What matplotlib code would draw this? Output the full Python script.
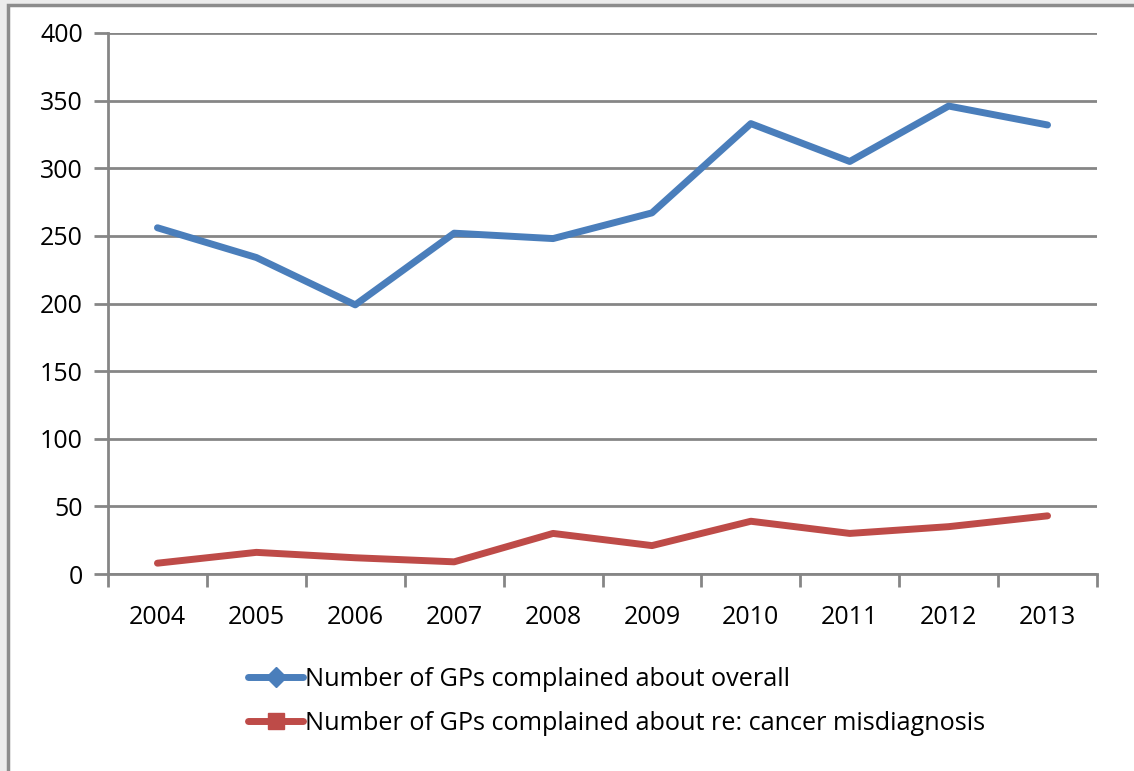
#!/usr/bin/env python3
# GP complaints line chart

import matplotlib.pyplot as plt
from matplotlib.lines import Line2D
from matplotlib.patches import Rectangle

years = ["2004", "2005", "2006", "2007", "2008", "2009", "2010", "2011", "2012", "2013"]
overall = [256, 234, 199, 252, 248, 267, 333, 305, 346, 332]
cancer = [8, 16, 12, 9, 30, 21, 39, 30, 35, 43]
label_overall = "Number of GPs complained about overall"
label_cancer = "Number of GPs complained about re: cancer misdiagnosis"

blue = "#4a7ebb"
red = "#be4b48"
grey = "#868686"

plt.rcParams["font.family"] = ["Open Sans", "DejaVu Sans"]

fig = plt.figure(figsize=(11.34, 7.71), dpi=100, facecolor="#ececec")
# chart frame (white box with grey border)
fig.patches.append(Rectangle((8 / 1134, -0.1), 1.2, 1.1 - 5 / 771, transform=fig.transFigure,
                             facecolor="white", edgecolor="#8c8c8c", linewidth=2.5, zorder=-5))

ax = fig.add_axes([108 / 1134, 1 - 574 / 771, (1097 - 108) / 1134, (574 - 33) / 771])
ax.set_facecolor("none")
ax.set_zorder(2)

x = list(range(len(years)))
ax.plot(x, overall, color=blue, linewidth=5, solid_capstyle="round", solid_joinstyle="round", zorder=3)
ax.plot(x, cancer, color=red, linewidth=5, solid_capstyle="round", solid_joinstyle="round", zorder=3)

ax.set_xlim(-0.5, len(years) - 0.5)
ax.set_ylim(0, 400)
ax.set_yticks(range(0, 401, 50))
ax.yaxis.grid(True, color=grey, linewidth=2)
ax.set_axisbelow(True)

# category labels in the middle, tick marks between categories
ax.set_xticks(x)
ax.set_xticklabels(years)
ax.set_xticks([i - 0.5 for i in range(len(years) + 1)], minor=True)
ax.tick_params(axis="x", which="major", length=0, pad=22, labelsize=18)
ax.tick_params(axis="x", which="minor", length=9, width=2, color=grey)
ax.tick_params(axis="y", length=10, width=2, color=grey, pad=8, labelsize=18)

for side in ["top", "right"]:
    ax.spines[side].set_visible(False)
for side in ["left", "bottom"]:
    ax.spines[side].set_color(grey)
    ax.spines[side].set_linewidth(2)

handles = [
    Line2D([], [], color=blue, linewidth=5, marker="D", markersize=10, solid_capstyle="round"),
    Line2D([], [], color=red, linewidth=5, marker="s", markersize=11, solid_capstyle="round"),
]
leg = fig.legend(handles, [label_overall, label_cancer], loc="upper left",
                 bbox_to_anchor=(225 / 1134, 1 - 644 / 771), frameon=False, fontsize=18.2,
                 handlelength=2.2, handletextpad=0.05, labelspacing=0.75)
leg.set_zorder(3)

fig.savefig("out.png", dpi=100, facecolor=fig.get_facecolor())
